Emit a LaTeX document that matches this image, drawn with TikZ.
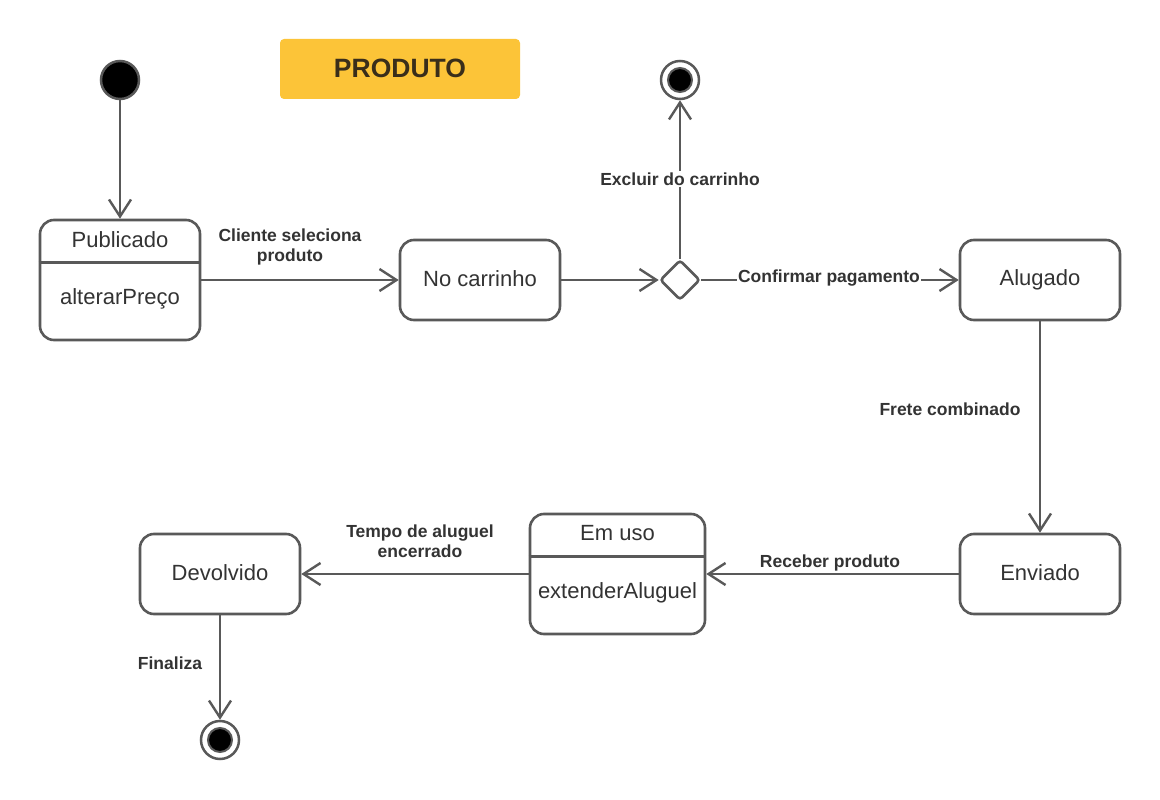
\documentclass[tikz,border=0pt]{standalone}
\usepackage{fontspec}
\setmainfont{Liberation Sans}
\usetikzlibrary{arrows.meta,shapes.geometric}
\definecolor{ln}{HTML}{595959}
\definecolor{tx}{HTML}{333333}
\definecolor{gold}{HTML}{FCC438}
\definecolor{title}{HTML}{3A2E1A}
\newcommand{\up}[1]{\raisebox{2.5pt}{#1}}
\begin{document}
\begin{tikzpicture}[x=1pt,y=-1pt,
  state/.style={draw=ln, line width=2.6pt, rounded corners=14pt, fill=white,
    minimum width=160pt, minimum height=80pt, inner sep=0pt,
    font=\fontsize{22}{26}\selectfont, text=tx},
  bigstate/.style={state, minimum height=120pt},
  comp/.style={font=\fontsize{22}{26}\selectfont, text=tx, inner sep=0pt},
  lbl/.style={font=\bfseries\fontsize{17.5}{20}\selectfont, text=tx, align=center, inner sep=2pt},
  tr/.style={draw=ln, line width=2.4pt, -{Straight Barb[length=17pt,width=22pt]}},
  initstate/.style={circle, draw=ln, line width=2.5pt, fill=black, minimum size=38pt, inner sep=0pt},
  finouter/.style={circle, draw=ln, line width=2.5pt, fill=white, minimum size=38pt, inner sep=0pt},
  fininner/.style={circle, draw=ln, line width=2pt, fill=black, minimum size=24pt, inner sep=0pt},
  choice/.style={diamond, draw=ln, line width=2.6pt, fill=white, minimum width=40pt, minimum height=40pt, inner sep=0pt, rounded corners=3pt}
]
\useasboundingbox (0,0) rectangle (1160,800);
\fill[white] (0,0) rectangle (1160,800);

% title
\node[fill=gold, rounded corners=4pt, minimum width=240pt, minimum height=60pt, inner sep=0pt,
  font=\bfseries\fontsize{26.5}{30}\selectfont, text=title] (ttl) at (400,69) {\up{PRODUTO}};

% states
\node[initstate] (init) at (120,80) {};
\node[bigstate] (pub) at (120,280) {};
\draw[draw=ln, line width=2.6pt] ([yshift=-44pt]pub.north west) -- ([yshift=-44pt]pub.north east);
\node[comp] (pubt) at (120,240) {Publicado};
\node[comp] (pubm) at (120,299) {alterarPreço};

\node[state] (nc) at (480,280) {\up{No carrinho}};
\node[choice] (dec) at (680,280) {};
\node[finouter] (fin1) at (680,80) {};
\node[fininner] (fin1i) at (680,80) {};
\node[state] (alu) at (1040,280) {\up{Alugado}};
\node[state] (env) at (1040,574) {\up{Enviado}};

\node[bigstate, minimum width=175pt] (uso) at (617.5,574) {};
\draw[draw=ln, line width=2.6pt] ([yshift=-44pt]uso.north west) -- ([yshift=-44pt]uso.north east);
\node[comp] (usot) at (617.5,533) {Em uso};
\node[comp] (usom) at (617.5,593) {extenderAluguel};

\node[state] (dev) at (220,574) {\up{Devolvido}};
\node[finouter] (fin2) at (220,740) {};
\node[fininner] (fin2i) at (220,740) {};

% transitions
\draw[tr] (init) -- (pub);
\draw[tr] (pub.east) -- (nc.west);
\node[lbl] (l1) at (290,247) {Cliente seleciona\\produto};
\draw[tr] (nc.east) -- (dec.west);
\draw[tr] (dec.north) -- (fin1);
\node[lbl, fill=white] (l2) at (680,179) {Excluir do carrinho};
\draw[tr] (dec.east) -- (alu.west);
\node[lbl, fill=white, inner sep=1pt] (l3) at (829,278) {Confirmar pagamento};
\draw[tr] (alu.south) -- (env.north);
\node[lbl] (l4) at (950,409) {Frete combinado};
\draw[tr] (env.west) -- (uso.east);
\node[lbl] (l5) at (830,563) {Receber produto};
\draw[tr] (uso.west) -- (dev.east);
\node[lbl] (l6) at (420,541) {Tempo de aluguel\\encerrado};
\draw[tr] (dev.south) -- (fin2);
\node[lbl] (l7) at (170,663) {Finaliza};
\end{tikzpicture}
\end{document}
